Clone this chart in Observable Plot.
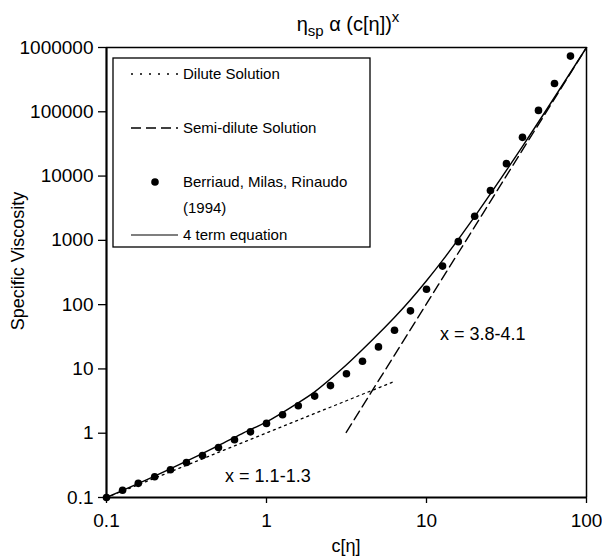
<!DOCTYPE html>
<html>
<head>
<meta charset="utf-8">
<script src="https://cdn.jsdelivr.net/npm/d3@7"></script>
<script src="https://cdn.jsdelivr.net/npm/@observablehq/plot@0.6"></script>
<style>
  html, body { margin: 0; padding: 0; background: #fff; }
  #chart { width: 602px; height: 556px; }
</style>
</head>
<body>
<div id="chart"></div>
<script>
// ---- data ----
const dataX = [0.1, 0.126, 0.158, 0.2, 0.251, 0.316, 0.398, 0.501, 0.631, 0.794,
               1, 1.26, 1.58, 2, 2.51, 3.16, 3.98, 5.01, 6.31, 7.94,
               10, 12.6, 15.8, 20, 25.1, 31.6, 39.8, 50.1, 63.1, 79.4];
const dataY = [0.1, 0.13, 0.166, 0.21, 0.27, 0.35, 0.45, 0.6, 0.79, 1.05,
               1.42, 1.94, 2.68, 3.78, 5.5, 8.4, 13.2, 22, 40, 80,
               174, 398, 955, 2370, 5980, 15600, 40000, 105000, 275000, 735000];

const diluteX = [0.1, 6.3];
const diluteY = [0.1, 6.4];

const semiX = [3.15, 100];
const semiY = [1.03, 1000000];

const fourX = [0.1, 0.2, 0.3, 0.5, 0.7, 1, 1.5, 2, 3, 4.7, 6.3, 7.9, 10, 12.6, 20, 40, 100];
const fourY = [0.1, 0.215, 0.345, 0.64, 0.98, 1.5, 2.75, 4.4, 10.3, 30, 63, 117, 235, 487, 2340, 29500, 1000000];

const xTicks = [0.1, 1, 10, 100];
const yTicks = [0.1, 1, 10, 100, 1000, 10000, 100000, 1000000];
const xTickLabels = ["0.1", "1", "10", "100"];
const yTickLabels = ["0.1", "1", "10", "100", "1000", "10000", "100000", "1000000"];

const annotText = ["x = 1.1-1.3", "x = 3.8-4.1"];
const annotX = [1.02, 22.5];
const annotY = [0.217, 35];

const legendLabels = ["Dilute Solution", "Semi-dilute Solution", "Berriaud, Milas, Rinaudo", "(1994)", "4 term equation"];

// ---- build tables ----
const pts = dataX.map((x, i) => ({x, y: dataY[i]}));
const dil = diluteX.map((x, i) => ({x, y: diluteY[i]}));
const semi = semiX.map((x, i) => ({x, y: semiY[i]}));
const four = fourX.map((x, i) => ({x, y: fourY[i]}));
const annots = annotText.map((t, i) => ({t, x: annotX[i], y: annotY[i]}));
const xLab = xTicks.map((v, i) => ({v, t: xTickLabels[i]}));
const yLab = yTicks.map((v, i) => ({v, t: yTickLabels[i]}));

const FONT = "'Liberation Sans', Arial, Helvetica, sans-serif";

const plot = Plot.plot({
  width: 602,
  height: 556,
  marginLeft: 106,
  marginRight: 16,
  marginTop: 47,
  marginBottom: 59,
  style: {fontFamily: FONT, fontSize: "18px", color: "#000", background: "#fff"},
  x: {type: "log", domain: [0.1, 100]},
  y: {type: "log", domain: [0.1, 1000000]},
  marks: [
    Plot.axisX({ticks: xTicks, tickFormat: () => "", tickSize: 6, label: null,
                stroke: "#000", strokeWidth: 1.3}),
    Plot.axisY({ticks: yTicks, tickFormat: () => "", tickSize: 8, label: null,
                stroke: "#000", strokeWidth: 1.3}),
    Plot.text(xLab, {x: "v", y: () => 0.1, text: "t", dy: 23, fontSize: 19, fill: "#000",
                     textAnchor: "middle", clip: false}),
    Plot.text(yLab, {y: "v", x: () => 0.1, text: "t", dx: -13, fontSize: 19, fill: "#000",
                     textAnchor: "end", clip: false}),
    Plot.ruleY([1000000], {stroke: "#000", strokeWidth: 1.5}),
    Plot.ruleX([100], {stroke: "#000", strokeWidth: 1.5}),
    Plot.ruleX([0.1], {stroke: "#000", strokeWidth: 2.2}),
    Plot.ruleY([0.1], {stroke: "#000", strokeWidth: 1.8}),
    Plot.line(dil, {x: "x", y: "y", stroke: "#000", strokeWidth: 1.3, strokeDasharray: "2,4"}),
    Plot.line(semi, {x: "x", y: "y", stroke: "#000", strokeWidth: 1.4, strokeDasharray: "10,5"}),
    Plot.line(four, {x: "x", y: "y", stroke: "#000", strokeWidth: 1.4, curve: "catmull-rom"}),
    Plot.dot(pts, {x: "x", y: "y", r: 3.8, fill: "#000", stroke: "none"}),
    Plot.text(annots, {x: "x", y: "y", text: "t", fontSize: 18, fill: "#000"})
  ]
});

document.getElementById("chart").appendChild(plot);

// ---- titles, axis labels and legend (fixed-position decorations) ----
const svg = d3.select(plot);
const deco = svg.append("g").attr("font-family", FONT).attr("fill", "#000").attr("text-anchor", "start");

const title = deco.append("text").attr("x", 348).attr("y", 31).attr("text-anchor", "middle").attr("font-size", 20);
title.append("tspan").text("η");
title.append("tspan").attr("dy", 5).attr("font-size", 15).text("sp");
title.append("tspan").attr("dy", -5).text(" α (c[η])");
title.append("tspan").attr("dy", -9).attr("font-size", 15).text("x");

deco.append("text").attr("transform", "translate(24,261) rotate(-90)")
  .attr("text-anchor", "middle").attr("font-size", 18).text("Specific Viscosity");

deco.append("text").attr("x", 346).attr("y", 552).attr("text-anchor", "middle")
  .attr("font-size", 18).text("c[η]");

const lg = deco.append("g");
lg.append("rect").attr("x", 113).attr("y", 58).attr("width", 257).attr("height", 189)
  .attr("fill", "#fff").attr("stroke", "#000").attr("stroke-width", 1.3);
const lx0 = 131, lx1 = 178, tx = 183;
const rows = [74, 128, 182, 208, 235];
lg.append("line").attr("x1", lx0).attr("x2", lx1).attr("y1", rows[0]).attr("y2", rows[0])
  .attr("stroke", "#000").attr("stroke-width", 1.3).attr("stroke-dasharray", "2,7");
lg.append("line").attr("x1", lx0).attr("x2", lx1).attr("y1", rows[1]).attr("y2", rows[1])
  .attr("stroke", "#000").attr("stroke-width", 1.4).attr("stroke-dasharray", "10,5");
lg.append("circle").attr("cx", 155).attr("cy", rows[2]).attr("r", 3.8).attr("fill", "#000");
lg.append("line").attr("x1", lx0).attr("x2", lx1).attr("y1", rows[4]).attr("y2", rows[4])
  .attr("stroke", "#000").attr("stroke-width", 1.2);
legendLabels.forEach((t, i) => {
  lg.append("text").attr("x", tx).attr("y", rows[i]).attr("dy", "0.35em")
    .attr("text-anchor", "start").attr("fill", "#000")
    .attr("font-size", 15).text(t);
});
</script>
</body>
</html>
